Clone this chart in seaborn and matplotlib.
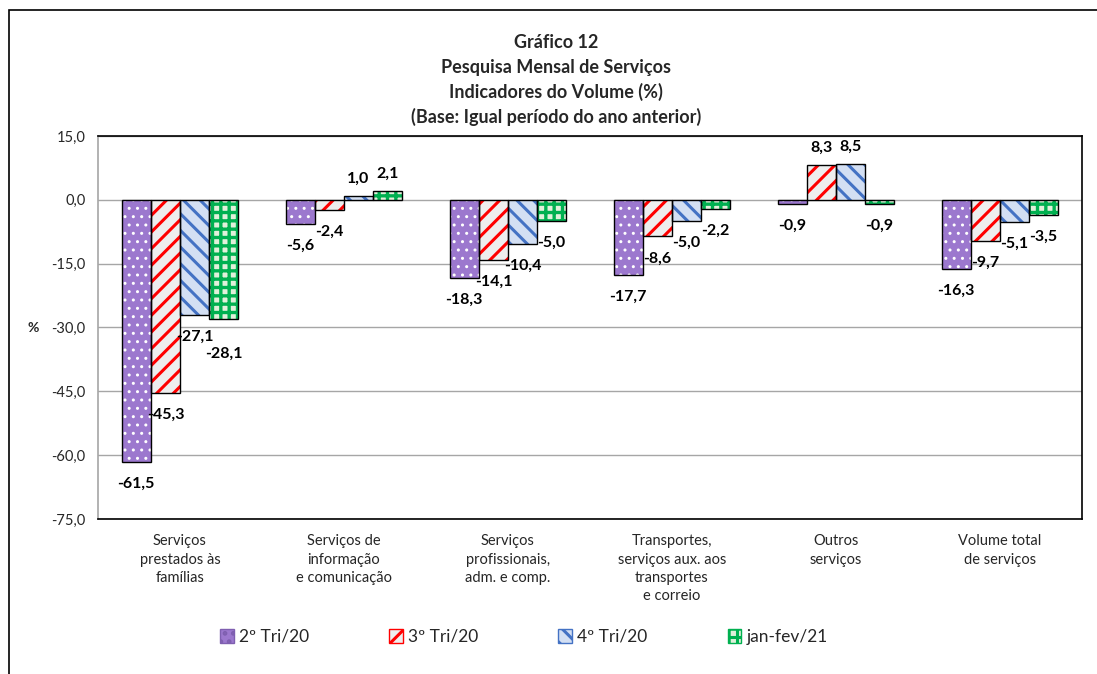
import matplotlib
matplotlib.use("Agg")
import matplotlib.pyplot as plt
import matplotlib.patches as mpatches
import seaborn as sns
import pandas as pd

categories = [
    "Serviços\nprestados às\nfamílias",
    "Serviços de\ninformação\ne comunicação",
    "Serviços\nprofissionais,\nadm. e comp.",
    "Transportes,\nserviços aux. aos\ntransportes\ne correio",
    "Outros\nserviços",
    "Volume total\nde serviços",
]
series_names = ["2º Tri/20", "3º Tri/20", "4º Tri/20", "jan-fev/21"]
tri2_20 = [-61.5, -5.6, -18.3, -17.7, -0.9, -16.3]
tri3_20 = [-45.3, -2.4, -14.1, -8.6, 8.3, -9.7]
tri4_20 = [-27.1, 1.0, -10.4, -5.0, 8.5, -5.1]
janfev_21 = [-28.1, 2.1, -5.0, -2.2, -0.9, -3.5]
yticks = [15, 0, -15, -30, -45, -60, -75]

title_lines = ["Gráfico 12", "Pesquisa Mensal de Serviços",
               "Indicadores do Volume (%)", "(Base: Igual período do ano anterior)"]

all_series = [tri2_20, tri3_20, tri4_20, janfev_21]
rows = []
for name, vals in zip(series_names, all_series):
    for c, v in zip(categories, vals):
        rows.append({"cat": c, "serie": name, "val": v})
df = pd.DataFrame(rows)

face_colors = ["#9C78CE", "#EEEEEE", "#D3DFF3", "#E0F0DA"]
hatch_colors = ["#FFFFFF", "#FF0000", "#4472C4", "#00B050"]
hatches = ["..", "//", "\\\\", "++"]
hatch_lw = [1.0, 2.2, 2.2, 2.4]
# extra downward nudge (pixels) for crowded labels: (series, category)
label_nudge = {(3, 0): -12}

sns.set_theme(style="white")
plt.rcParams["font.family"] = ["Lato", "DejaVu Sans"]
plt.rcParams["hatch.linewidth"] = 2.2

fig = plt.figure(figsize=(10.97, 6.74), dpi=100)
ax = fig.add_axes([0.0893, 0.2300, 0.9863 - 0.0893, 0.7982 - 0.2300])

sns.barplot(data=df, x="cat", y="val", hue="serie", hue_order=series_names,
            order=categories, palette=face_colors, width=0.71, gap=0,
            errorbar=None, legend=False, ax=ax, saturation=1)

for i, cont in enumerate(ax.containers):
    for p in cont.patches:
        p.set_facecolor(face_colors[i])
        p.set_hatch(hatches[i])
        p.set_edgecolor(hatch_colors[i])
        p.set_linewidth(0)
        if hasattr(p, "set_hatch_linewidth"):
            p.set_hatch_linewidth(hatch_lw[i])
        ax.add_patch(mpatches.Rectangle(p.get_xy(), p.get_width(), p.get_height(),
                                        fill=False, edgecolor="black", linewidth=1.0,
                                        zorder=3))
    for j, (p, v) in enumerate(zip(cont.patches, all_series[i])):
        x = p.get_x() + p.get_width() / 2
        lab = f"{v:.1f}".replace(".", ",")
        off = 17 if v >= 0 else -22
        off += label_nudge.get((i, j), 0)
        ax.annotate(lab, (x, v), xytext=(0, off), textcoords="offset pixels",
                    ha="center", va="center", fontsize=11.5, fontweight="bold",
                    color="black", zorder=5)

ax.set_ylim(-75, 15)
ax.set_yticks(yticks)
ax.set_yticklabels([f"{t:.1f}".replace(".", ",") for t in yticks], fontsize=10.5)
ax.set_xlim(-0.5, len(categories) - 0.5)
ax.set_xlabel("")
ax.set_ylabel("")
ax.tick_params(axis="x", length=0, pad=11, labelsize=10.5)
ax.tick_params(axis="y", length=0, pad=9)
for lab in ax.get_xticklabels():
    lab.set_linespacing(1.4)
    lab.set_va("top")
ax.yaxis.grid(True, color="#A6A6A6", linewidth=1.0)
ax.set_axisbelow(True)
for s in ["top", "right", "bottom"]:
    ax.spines[s].set_color("black")
    ax.spines[s].set_linewidth(1.2)
    ax.spines[s].set_visible(True)
ax.spines["left"].set_color("#A6A6A6")
ax.spines["left"].set_linewidth(1.2)

fig.text(33 / 1097, 1 - 328 / 674, "%", fontsize=10, fontweight="bold",
         ha="center", va="center")

for k, line in enumerate(title_lines):
    fig.text(556 / 1097, 1 - (42 + 25 * k) / 674, line, fontsize=13,
             fontweight="bold", ha="center", va="center")

handles = [mpatches.Patch(facecolor=face_colors[i], hatch=hatches[i],
                          edgecolor=hatch_colors[i] if i else "#7F5FB0", linewidth=1)
           for i in range(4)]
fig.legend(handles, series_names, loc="center", bbox_to_anchor=(524 / 1097, 1 - 637 / 674),
           ncol=4, frameon=False, fontsize=12.5, handlelength=0.8, handleheight=0.8,
           handletextpad=0.3, columnspacing=4.6)

fig.add_artist(mpatches.Rectangle((9 / 1097, -0.2), 1.5, 1 - 10 / 674 + 0.2,
                                  transform=fig.transFigure, fill=False,
                                  edgecolor="black", linewidth=1.2))

fig.savefig("out.png", dpi=100)
